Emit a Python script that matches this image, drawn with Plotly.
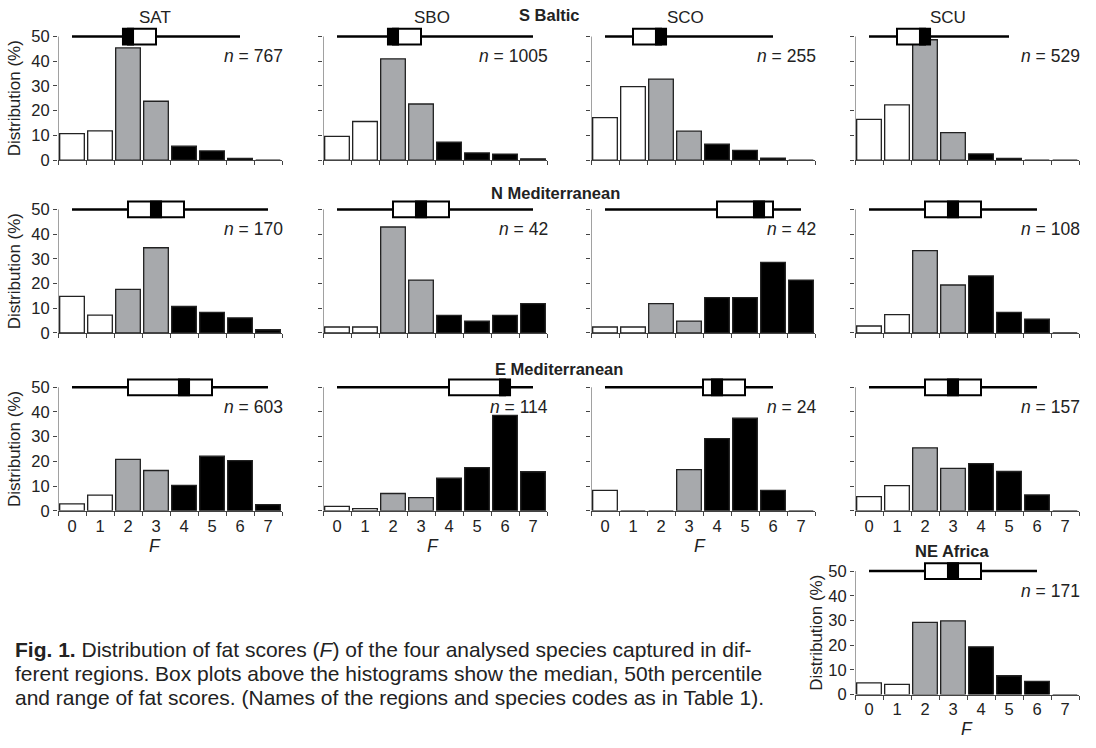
import plotly.graph_objects as go

# ---------------- data ----------------
F_SCORES = [0, 1, 2, 3, 4, 5, 6, 7]
TICK_LABELS = ["0", "1", "2", "3", "4", "5", "6", "7"]

# distribution (%) per fat score
SAT_SBALTIC = [10.7, 11.8, 45.4, 23.8, 5.6, 3.7, 0.7, 0]
SBO_SBALTIC = [9.6, 15.6, 41.0, 22.7, 7.2, 2.9, 2.4, 0.5]
SCO_SBALTIC = [17.2, 29.7, 32.8, 11.7, 6.4, 3.9, 0.8, 0]
SCU_SBALTIC = [16.5, 22.3, 48.7, 11.1, 2.5, 0.7, 0, 0]

SAT_NMED = [14.8, 7.2, 17.6, 34.5, 10.7, 8.3, 6.1, 1.3]
SBO_NMED = [2.4, 2.4, 42.9, 21.4, 7.1, 4.8, 7.1, 11.9]
SCO_NMED = [2.4, 2.4, 11.9, 4.8, 14.3, 14.3, 28.6, 21.4]
SCU_NMED = [2.8, 7.4, 33.3, 19.4, 23.1, 8.3, 5.6, 0]

SAT_EMED = [2.8, 6.3, 20.8, 16.3, 10.3, 22.1, 20.3, 2.5]
SBO_EMED = [1.8, 0.9, 7.0, 5.3, 13.2, 17.5, 38.6, 15.8]
SCO_EMED = [8.3, 0, 0, 16.7, 29.2, 37.5, 8.3, 0]
SCU_EMED = [5.7, 10.2, 25.5, 17.2, 19.1, 15.9, 6.4, 0]

SCU_NEAFRICA = [4.7, 4.1, 29.2, 29.8, 19.3, 7.6, 5.3, 0]

# box plots: min, q1, median, q3, max
BOX_SAT_SBALTIC = [0, 2, 2, 3, 6]
BOX_SBO_SBALTIC = [0, 2, 2, 3, 7]
BOX_SCO_SBALTIC = [0, 1, 2, 2, 6]
BOX_SCU_SBALTIC = [0, 1, 2, 2, 5]
BOX_SAT_NMED = [0, 2, 3, 4, 7]
BOX_SBO_NMED = [0, 2, 3, 4, 7]
BOX_SCO_NMED = [0, 4, 5.5, 6, 7]
BOX_SCU_NMED = [0, 2, 3, 4, 6]
BOX_SAT_EMED = [0, 2, 4, 5, 7]
BOX_SBO_EMED = [0, 4, 6, 6, 7]
BOX_SCO_EMED = [0, 3.5, 4, 5, 6]
BOX_SCU_EMED = [0, 2, 3, 4, 6]
BOX_SCU_NEAFRICA = [0, 2, 3, 4, 6]

N_SIZES = [767, 1005, 255, 529, 170, 42, 42, 108, 603, 114, 24, 157, 171]
SPECIES = ["SAT", "SBO", "SCO", "SCU"]
REGIONS = ["S Baltic", "N Mediterranean", "E Mediterranean", "NE Africa"]

BAR_COLORS = ["white", "white", "#a7a9ac", "#a7a9ac", "black", "black", "black", "black"]

# ---------------- layout geometry (pixels) ----------------
W, H = 1096, 748
COL_X = [58, 323, 591, 855]
ROW_BOTTOM = [162, 337, 517, 703]
PW = 224
YMAX = 54.5
PX_PER_UNIT = 2.5
PH = YMAX * PX_PER_UNIT

panels = [
    # (values, box, n, col, row)
    (SAT_SBALTIC, BOX_SAT_SBALTIC, N_SIZES[0], 0, 0),
    (SBO_SBALTIC, BOX_SBO_SBALTIC, N_SIZES[1], 1, 0),
    (SCO_SBALTIC, BOX_SCO_SBALTIC, N_SIZES[2], 2, 0),
    (SCU_SBALTIC, BOX_SCU_SBALTIC, N_SIZES[3], 3, 0),
    (SAT_NMED, BOX_SAT_NMED, N_SIZES[4], 0, 1),
    (SBO_NMED, BOX_SBO_NMED, N_SIZES[5], 1, 1),
    (SCO_NMED, BOX_SCO_NMED, N_SIZES[6], 2, 1),
    (SCU_NMED, BOX_SCU_NMED, N_SIZES[7], 3, 1),
    (SAT_EMED, BOX_SAT_EMED, N_SIZES[8], 0, 2),
    (SBO_EMED, BOX_SBO_EMED, N_SIZES[9], 1, 2),
    (SCO_EMED, BOX_SCO_EMED, N_SIZES[10], 2, 2),
    (SCU_EMED, BOX_SCU_EMED, N_SIZES[11], 3, 2),
    (SCU_NEAFRICA, BOX_SCU_NEAFRICA, N_SIZES[12], 3, 3),
]

FONT = "Liberation Sans, Arial, sans-serif"
AXC = "#444444"

fig = go.Figure()
layout = dict(
    width=W, height=H, margin=dict(l=0, r=0, t=0, b=0), autosize=False,
    paper_bgcolor="white", plot_bgcolor="white", showlegend=False,
    font=dict(family=FONT, color="#222", size=16),
)
shapes = []
annotations = []

for k, (vals, box, n, col, row) in enumerate(panels, start=1):
    xa = "x" if k == 1 else f"x{k}"
    ya = "y" if k == 1 else f"y{k}"
    x0 = COL_X[col]
    yb = ROW_BOTTOM[row]
    show_x_labels = row >= 2
    show_y_labels = col == 0 or row == 3

    fig.add_trace(go.Bar(
        x=F_SCORES, y=vals, xaxis=xa, yaxis=ya,
        marker=dict(color=BAR_COLORS, line=dict(color="#222", width=1.3)),
        width=0.88, hoverinfo="x+y",
    ))

    layout["xaxis" if k == 1 else f"xaxis{k}"] = dict(
        domain=[x0 / W, (x0 + PW) / W], anchor=ya, range=[-0.5, 7.5],
        tickvals=F_SCORES, ticktext=TICK_LABELS, ticks="",
        showticklabels=show_x_labels, tickfont=dict(size=16.5, color="#222"),
        showline=True, linecolor=AXC, linewidth=1, showgrid=False, zeroline=False,
        minor=dict(tickmode="array", tickvals=[i - 0.5 for i in range(9)],
                   ticks="outside", ticklen=4, tickcolor=AXC, tickwidth=1, showgrid=False),
        fixedrange=True,
    )
    layout["yaxis" if k == 1 else f"yaxis{k}"] = dict(
        domain=[1 - yb / H, 1 - (yb - PH) / H], anchor=xa, range=[0, YMAX],
        tickvals=[0, 10, 20, 30, 40, 50], ticks="outside", ticklen=4,
        tickcolor=AXC, tickwidth=1, showticklabels=show_y_labels,
        tickfont=dict(size=16.5, color="#222"),
        showline=False, showgrid=False, zeroline=False, fixedrange=True,
    )
    # y axis line from 0 to 50 only
    shapes.append(dict(type="line", xref=xa, yref=ya, x0=-0.5, x1=-0.5, y0=0, y1=50,
                       line=dict(color=AXC, width=1)))
    # box plot above the histogram
    mn, q1, med, q3, mx = box
    shapes.append(dict(type="line", xref=xa, yref=ya, x0=mn, x1=mx, y0=50, y1=50,
                       line=dict(color="black", width=2.5)))
    shapes.append(dict(type="rect", xref=xa, yref=ya, x0=q1, x1=q3, y0=46.8, y1=53.2,
                       fillcolor="white", line=dict(color="black", width=2)))
    shapes.append(dict(type="rect", xref=xa, yref=ya, x0=med - 0.18, x1=med + 0.18,
                       y0=46.8, y1=53.2, fillcolor="black", line=dict(color="black", width=2)))
    # sample size
    annotations.append(dict(text=f"<i>n</i> = {n}", xref="paper", yref=ya,
                            x=(x0 + PW + 3) / W, y=42, xanchor="right", yanchor="middle",
                            showarrow=False, font=dict(size=17.5, color="#222")))
    if show_x_labels and not (row == 2 and col == 3):
        fx = {0: 155, 1: 433, 2: 700, 3: 967}[col]
        fy = 553 if row == 2 else 738
        annotations.append(dict(text="<i>F</i>", xref="paper", yref="paper",
                                x=fx / W, y=1 - fy / H, xanchor="center", yanchor="middle",
                                showarrow=False, font=dict(size=17.5, color="#222")))
    if show_y_labels:
        tx = 14 if col == 0 else 817
        annotations.append(dict(text="Distribution (%)", xref="paper", yref="paper",
                                x=tx / W, y=1 - (yb - 125 / 2) / H, textangle=-90,
                                xanchor="center", yanchor="middle", showarrow=False,
                                font=dict(size=17, color="#222")))

# species titles
for name, cx in zip(SPECIES, [155, 432, 685, 948]):
    annotations.append(dict(text=name, xref="paper", yref="paper", x=cx / W, y=1 - 18 / H,
                            xanchor="center", yanchor="middle", showarrow=False,
                            font=dict(size=17, color="#222")))
# region titles
for name, cx, cy in zip(REGIONS, [549, 555, 559, 952], [15, 195, 373, 558]):
    annotations.append(dict(text=f"<b>{name}</b>", xref="paper", yref="paper",
                            x=cx / W, y=1 - cy / H, xanchor="center", yanchor="middle",
                            showarrow=False, font=dict(size=16.5, color="#222")))

# caption
CAPTION_LINES = [
    "<b>Fig. 1.</b> Distribution of fat scores (<i>F</i>) of the four analysed species captured in dif-",
    "ferent regions. Box plots above the histograms show the median, 50th percentile",
    "and range of fat scores. (Names of the regions and species codes as in Table 1).",
]
for line, cy in zip(CAPTION_LINES, [657, 682, 706]):
    annotations.append(dict(text=line, xref="paper", yref="paper", x=13 / W, y=1 - cy / H,
                            xanchor="left", yanchor="middle", showarrow=False,
                            font=dict(size=21, color="#222")))

layout["shapes"] = shapes
layout["annotations"] = annotations
fig.update_layout(**layout)

POST = (
    "document.documentElement.style.margin='0';"
    "document.documentElement.style.overflow='hidden';"
    "document.body.style.margin='0';document.body.style.padding='0';"
    "document.body.style.overflow='hidden';"
    "var gd=document.getElementsByClassName('plotly-graph-div')[0];"
    "gd.style.position='fixed';gd.style.top='0px';gd.style.left='0px';"
)
fig.write_html("out.html", config={"displayModeBar": False}, post_script=POST)
